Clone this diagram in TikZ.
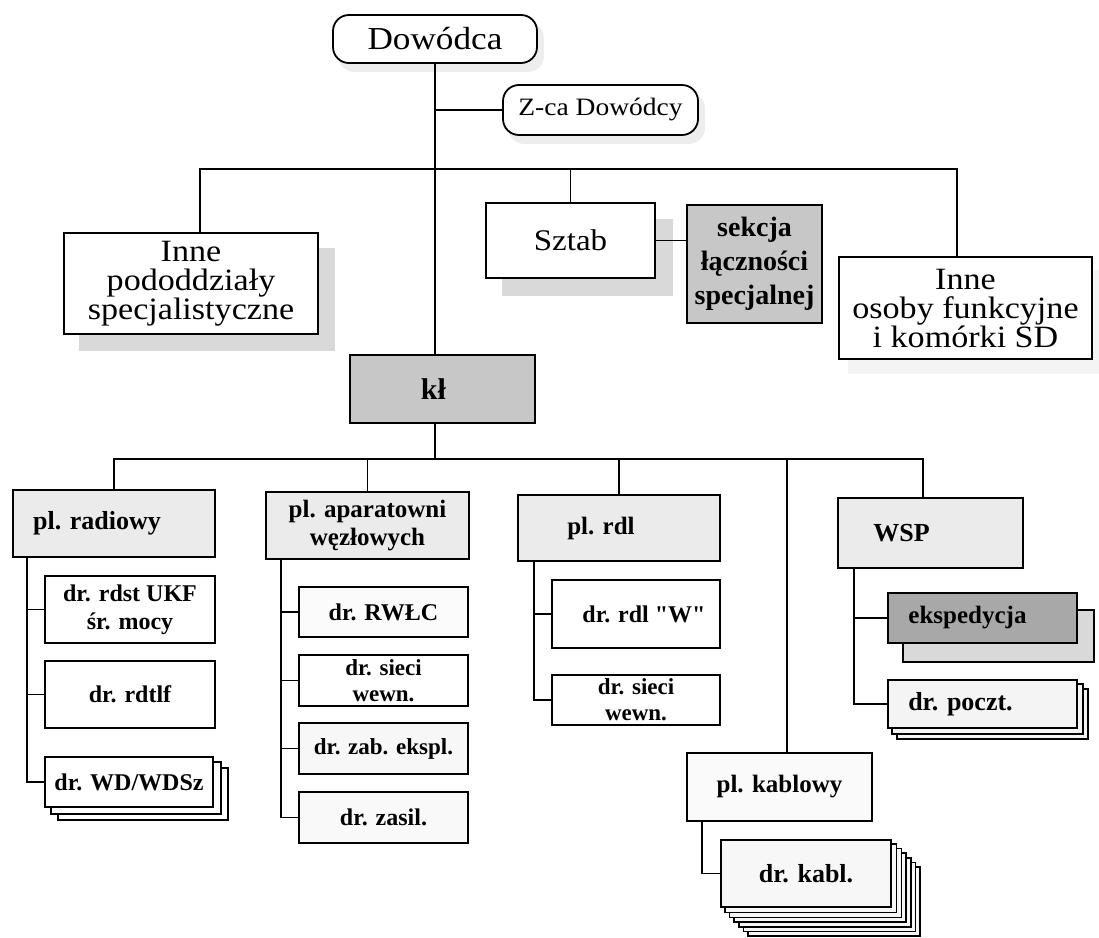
\documentclass[tikz,border=0pt]{standalone}
\usepackage{fontspec}
\setmainfont{Liberation Serif}[Ligatures=TeXOff]
\newfontfamily\widefont{Liberation Serif}[FakeStretch=1.1]
\usetikzlibrary{backgrounds,calc}
\definecolor{plg}{gray}{0.92}
\definecolor{midg}{gray}{0.78}
\definecolor{darkg}{gray}{0.66}
\definecolor{shg}{gray}{0.85}
\newcommand{\sh}[2]{\hspace*{#1}#2}
\tikzset{
  box/.style={draw=black, line width=1.8pt, rectangle, inner sep=2pt, align=center, text=black},
  rbox/.style={box, fill=white, rounded corners=16pt},
  plbox/.style={box, fill=plg, font=\bfseries\fontsize{25}{28}\selectfont},
  drbox/.style={box, fill=white, font=\bfseries\fontsize{24}{28}\selectfont},
  conn/.style={line width=1.6pt, draw=black},
  stackbox/.style={line width=1.5pt, draw=black, fill=white},
}
\begin{document}
\begin{tikzpicture}[x=1pt,y=-1pt]
\useasboundingbox (0,0) rectangle (1099,937);
\begin{scope}[on background layer]
  \fill[white] (0,0) rectangle (1099,937);
\end{scope}

% top level
\node[rbox, minimum width=204, minimum height=48, font=\widefont\fontsize{32}{32}\selectfont] (dow) at (435,39) {Dowódca};
\node[rbox, minimum width=195, minimum height=50, font=\widefont\fontsize{25}{25}\selectfont] (zca) at (600.5,110) {Z-ca Dowódcy};
\node[box, fill=white, minimum width=254, minimum height=101, font=\widefont\fontsize{31}{29}\selectfont] (ipod) at (191,283.5) {Inne\\pododdziały\\specjalistyczne};
\node[box, fill=white, minimum width=169, minimum height=75, font=\widefont\fontsize{30}{30}\selectfont] (szt) at (570.5,240.5) {Sztab};
\node[box, fill=midg, minimum width=135, minimum height=118, font=\bfseries\fontsize{28}{34}\selectfont] (sek) at (754.5,264) {sekcja\\łączności\\specjalnej};
\node[box, fill=white, minimum width=253, minimum height=102, font=\widefont\fontsize{31}{29}\selectfont] (ios) at (965.5,308) {Inne\\osoby funkcyjne\\i komórki SD};
\node[box, fill=midg, minimum width=185, minimum height=68, font=\bfseries\fontsize{30}{30}\selectfont] (kl) at (442.5,389) {\sh{-18pt}{kł}};

% platoons
\node[plbox, minimum width=202, minimum height=67, font=\bfseries\fontsize{26}{28}\selectfont] (plr) at (114,523.5) {\sh{-34pt}{pl. radiowy}};
\node[plbox, minimum width=203, minimum height=67] (pla) at (367.5,525.5) {pl. aparatowni\\węzłowych};
\node[plbox, minimum width=202, minimum height=66] (prdl) at (619,528) {\sh{-36pt}{pl. rdl}};
\node[plbox, fill=gray!4, minimum width=185, minimum height=68] (pkab) at (779.5,787) {pl. kablowy};
\node[plbox, minimum width=185, minimum height=70, font=\bfseries\fontsize{26}{28}\selectfont] (wsp) at (930.5,533) {\sh{-58pt}{WSP}};

% squads
\node[drbox, minimum width=170, minimum height=67] (rdst) at (130,609.5) {dr. rdst UKF\\śr. mocy};
\node[drbox, minimum width=170, minimum height=67] (rdtlf) at (130,694.5) {dr. rdtlf};
\node[drbox, minimum width=168, minimum height=50] (wd) at (129,782) {dr. WD/WDSz};
\node[drbox, fill=gray!3, minimum width=169, minimum height=50] (rwlc) at (383.5,612) {dr. RWŁC};
\node[drbox, minimum width=169, minimum height=51, font=\bfseries\fontsize{23}{26}\selectfont] (sw1) at (383.5,680.5) {dr. sieci\\wewn.};
\node[drbox, fill=gray!6, minimum width=169, minimum height=51, font=\bfseries\fontsize{23}{26}\selectfont] (zab) at (383.5,748.5) {dr. zab. ekspl.};
\node[drbox, fill=gray!5, minimum width=169, minimum height=51] (zas) at (383.5,817.5) {dr. zasil.};
\node[drbox, minimum width=168, minimum height=68] (rdlw) at (636,614) {\sh{16pt}{dr. rdl "W"}};
\node[drbox, minimum width=168, minimum height=50, font=\bfseries\fontsize{23}{26}\selectfont] (sw2) at (636,700) {dr. sieci\\wewn.};
\node[drbox, fill=gray!6, minimum width=170, minimum height=67, font=\bfseries\fontsize{26}{28}\selectfont] (kab) at (806,873.5) {dr. kabl.};
\node[drbox, fill=darkg, minimum width=189, minimum height=50, font=\bfseries\fontsize{25}{28}\selectfont] (eksp) at (982.5,618) {\sh{-30pt}{ekspedycja}};
\node[drbox, fill=gray!9, minimum width=189, minimum height=48, font=\bfseries\fontsize{26}{28}\selectfont] (pocz) at (982.5,704) {\sh{-44pt}{dr. poczt.}};

% shadows and stacked copies
\begin{scope}[on background layer]
  \fill[gray!14, rounded corners=16pt] ([shift={(6,8)}]dow.south west) rectangle ([shift={(6,8)}]dow.north east);
  \fill[gray!14, rounded corners=16pt] ([shift={(6,8)}]zca.south west) rectangle ([shift={(6,8)}]zca.north east);
  \fill[shg] ([shift={(16,16)}]ipod.south west) rectangle ([shift={(16,16)}]ipod.north east);
  \fill[gray!30] ([shift={(17,17)}]szt.south west) rectangle ([shift={(17,17)}]szt.north east);
  \fill[gray!9] ([shift={(10,14)}]ios.south west) rectangle ([shift={(10,14)}]ios.north east);
  \foreach \d in {14,7}
    \draw[stackbox] ([shift={(\d,0.85*\d)}]wd.south west) rectangle ([shift={(\d,0.85*\d)}]wd.north east);
  \foreach \d in {28,23.5,19,14,9.5,4.7}
    \draw[stackbox, fill=gray!6] ([shift={(\d,\d)}]kab.south west) rectangle ([shift={(\d,\d)}]kab.north east);
  \foreach \d in {10,5}
    \draw[stackbox, fill=gray!9] ([shift={(\d,\d)}]pocz.south west) rectangle ([shift={(\d,\d)}]pocz.north east);
  \draw[stackbox, fill=gray!30] ([shift={(16,18)}]eksp.south west) rectangle ([shift={(16,18)}]eksp.north east);
\end{scope}

% connectors, upper part
\draw[conn] (dow.south) -- (dow.south |- kl.north);
\draw[conn] (dow.south |- zca.west) -- (zca.west);
\coordinate (tb) at (436,169);
\draw[conn] ([xshift=9pt]ipod.north) -- ([xshift=9pt]ipod.north |- tb) -- ([xshift=-8.5pt]ios.north |- tb) -- ([xshift=-8.5pt]ios.north);
\draw[conn] (szt.north) -- (szt.north |- tb);
\draw[conn] (szt.east) -- (szt.east -| sek.west);

% connectors, lower bus
\coordinate (lb) at (436,459);
\draw[conn] ([xshift=-7.5pt]kl.south) -- ([xshift=-7.5pt]kl.south |- lb);
\draw[conn] (plr.north) -- (plr.north |- lb) -- ([xshift=-7.5pt]wsp.north |- lb) -- ([xshift=-7.5pt]wsp.north);
\draw[conn] (pla.north) -- (pla.north |- lb);
\draw[conn] (prdl.north) -- (prdl.north |- lb);
\draw[conn] ([xshift=7.5pt]pkab.north) -- ([xshift=7.5pt]pkab.north |- lb);

% trunks
\coordinate (t1) at ([xshift=15pt]plr.south west);
\draw[conn] (t1) |- (wd.west);
\draw[conn] (rdst.west) -- (rdst.west -| t1);
\draw[conn] (rdtlf.west) -- (rdtlf.west -| t1);

\coordinate (t2) at ([xshift=16pt]pla.south west);
\draw[conn] (t2) |- (zas.west);
\draw[conn] (rwlc.west) -- (rwlc.west -| t2);
\draw[conn] (sw1.west) -- (sw1.west -| t2);
\draw[conn] (zab.west) -- (zab.west -| t2);

\coordinate (t3) at ([xshift=17pt]prdl.south west);
\draw[conn] (t3) |- (sw2.west);
\draw[conn] (rdlw.west) -- (rdlw.west -| t3);

\coordinate (t4) at ([xshift=16pt]pkab.south west);
\draw[conn] (t4) |- (kab.west);

\coordinate (t5) at ([xshift=17pt]wsp.south west);
\draw[conn] (t5) |- (pocz.west);
\draw[conn] (eksp.west) -- (eksp.west -| t5);
\end{tikzpicture}
\end{document}
